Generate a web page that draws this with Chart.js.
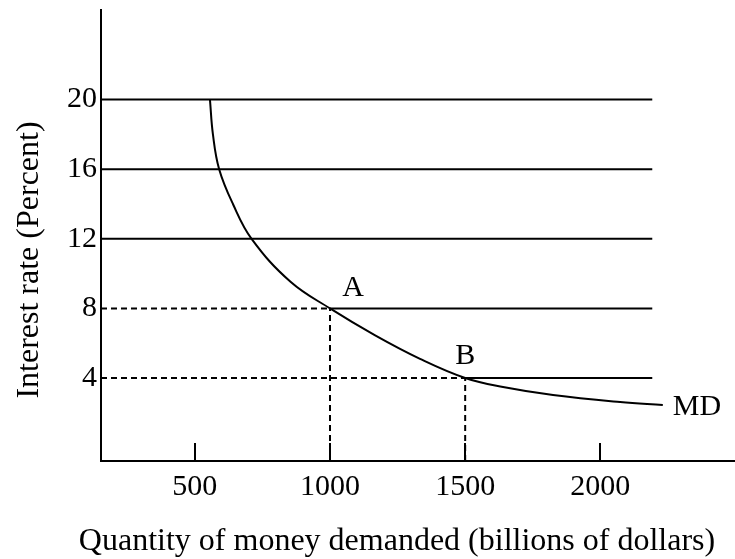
<!DOCTYPE html>
<html>
<head>
<meta charset="utf-8">
<script src="https://cdn.jsdelivr.net/npm/chart.js@4.4.1/dist/chart.umd.min.js"></script>
<style>
  html, body { margin: 0; padding: 0; background: #fff; }
  #wrap { width: 735px; height: 559px; }
</style>
</head>
<body>
<div id="wrap"><canvas id="chartMoney" width="735" height="559"></canvas></div>
<script>
// tick labels
const rateTicks = [4, 8, 12, 16, 20];
const quantityTicks = [500, 1000, 1500, 2000];

// money demand curve (billions, percent)
const mdQuantity = [556, 567, 590, 641, 710, 854, 1000, 1167, 1333, 1500, 1640, 1825, 2073, 2231];
const mdRate = [20, 18, 16, 14, 12, 9.53, 8, 6.45, 5.1, 4, 3.48, 3.02, 2.62, 2.45];

// full horizontal rate lines
const solidRates = [20, 16, 12];

// marked points on the curve
const pointNames = ['A', 'B'];
const pointQuantity = [1000, 1500];
const pointRate = [8, 4];

const lineEnd = 2192;
const xMin = 153, xMax = 2498;
const yMin = -0.77, yMax = 25.15;

const SERIF = "'Liberation Serif', 'Times New Roman', serif";
const INK = '#000';

const seg = (pts, dashed) => ({
   data: pts,
   showLine: true,
   borderColor: INK,
   borderWidth: 2,
   borderDash: dashed ? [6, 4] : [],
   pointRadius: 0,
   fill: false,
});

const datasets = [];
solidRates.forEach(r => {
   datasets.push(seg([{ x: xMin, y: r }, { x: lineEnd, y: r }], false));
});
pointNames.forEach((name, i) => {
   const q = pointQuantity[i];
   const r = pointRate[i];
   datasets.push(seg([{ x: xMin, y: r }, { x: q, y: r }], true));
   datasets.push(seg([{ x: q, y: r }, { x: lineEnd, y: r }], false));
   datasets.push(seg([{ x: q, y: yMin }, { x: q, y: r }], true));
});
datasets.push(Object.assign(seg(mdQuantity.map((q, i) => ({ x: q, y: mdRate[i] })), false), {
   tension: 0.4,
}));

// A, B and MD labels, inward x ticks, axis titles
const labelOffsets = [[23, -20], [0, -22]];
const annotate = {
   id: 'annotate',
   afterDatasetsDraw(chart) {
      const { ctx, chartArea } = chart;
      const x = chart.scales.x;
      const y = chart.scales.y;
      ctx.save();
      ctx.strokeStyle = INK;
      ctx.lineWidth = 2;
      quantityTicks.forEach(v => {
         const px = Math.round(x.getPixelForValue(v));
         ctx.beginPath();
         ctx.moveTo(px, chartArea.bottom);
         ctx.lineTo(px, chartArea.bottom - 18);
         ctx.stroke();
      });

      ctx.fillStyle = INK;
      ctx.font = `30px ${SERIF}`;
      ctx.textAlign = 'center';
      ctx.textBaseline = 'middle';
      pointNames.forEach((name, i) => {
         const px = x.getPixelForValue(pointQuantity[i]) + labelOffsets[i][0];
         const py = y.getPixelForValue(pointRate[i]) + labelOffsets[i][1];
         ctx.fillText(name, px, py);
      });
      const last = mdQuantity.length - 1;
      ctx.textAlign = 'left';
      ctx.fillText('MD', x.getPixelForValue(mdQuantity[last]) + 10, y.getPixelForValue(mdRate[last]) + 2);

      ctx.font = `32px ${SERIF}`;
      ctx.textAlign = 'center';
      ctx.textBaseline = 'alphabetic';
      ctx.fillText('Quantity of money demanded (billions of dollars)', 397, 550);
      ctx.translate(38, 260);
      ctx.rotate(-Math.PI / 2);
      ctx.fillText('Interest rate (Percent)', 0, 0);
      ctx.restore();
   }
};

Chart.defaults.font.family = SERIF;
new Chart(document.getElementById('chartMoney').getContext('2d'), {
   type: 'scatter',
   data: { datasets: datasets },
   options: {
      responsive: false,
      animation: false,
      devicePixelRatio: 1,
      layout: { padding: { top: 10, right: 0, left: 0, bottom: 0 } },
      scales: {
         x: {
            type: 'linear',
            min: xMin,
            max: xMax,
            afterBuildTicks: s => { s.ticks = quantityTicks.map(v => ({ value: v })); },
            afterFit: s => { s.height = 98; s.paddingLeft = 0; s.paddingRight = 0; },
            grid: { drawOnChartArea: false, drawTicks: false },
            border: { color: INK, width: 2 },
            ticks: {
               color: INK,
               font: { size: 30 },
               padding: 8,
               maxRotation: 0,
               autoSkip: false,
               callback: v => String(v),
            },
         },
         y: {
            type: 'linear',
            min: yMin,
            max: yMax,
            afterBuildTicks: s => { s.ticks = rateTicks.map(v => ({ value: v })); },
            afterFit: s => { s.width = 101; s.paddingTop = 0; s.paddingBottom = 0; },
            grid: { drawOnChartArea: false, drawTicks: false },
            border: { color: INK, width: 2 },
            ticks: {
               color: INK,
               font: { size: 30 },
               padding: 4,
               autoSkip: false,
               callback: v => String(v),
            },
         }
      },
      plugins: {
         legend: { display: false },
         tooltip: { enabled: false },
      },
   },
   plugins: [annotate]
});
</script>
</body>
</html>
